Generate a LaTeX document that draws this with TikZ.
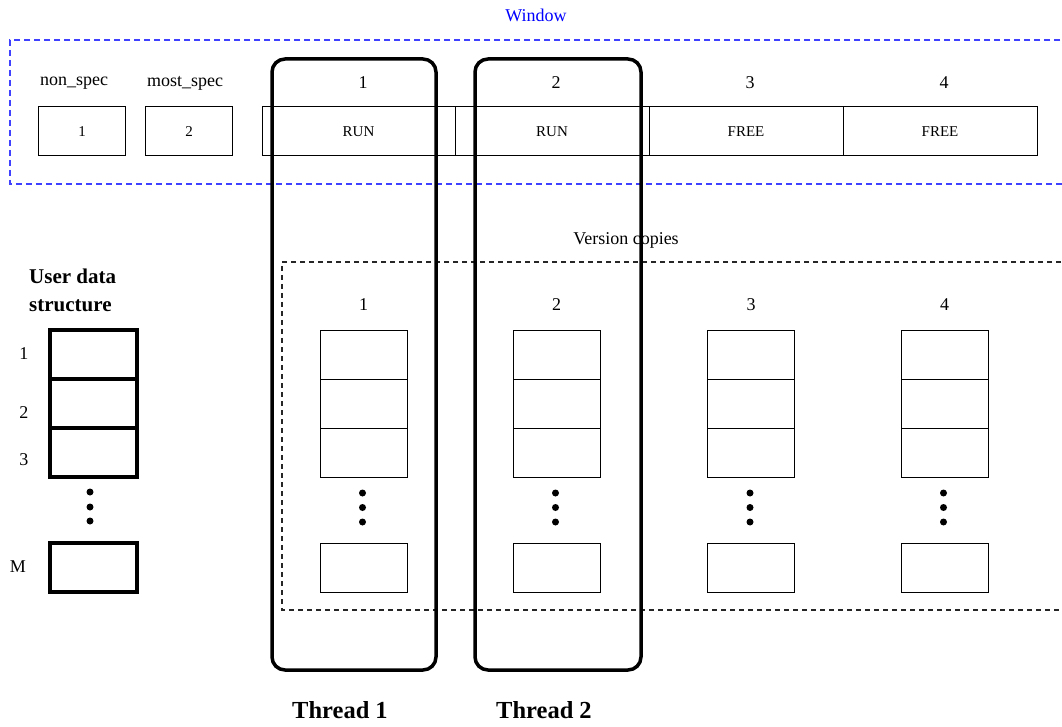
\documentclass[tikz,border=0pt]{standalone}
\usepackage{fontspec}
\setmainfont{Liberation Serif}
\begin{document}
\begin{tikzpicture}[x=1pt,y=-1pt,
  lbl/.style={font=\fontsize{18}{20}\selectfont, inner sep=0},
  cell/.style={draw, line width=1pt, minimum width=87pt, minimum height=49pt, inner sep=0, outer sep=0},
  slot/.style={draw, line width=1pt, minimum height=49pt, inner sep=0, outer sep=0, font=\fontsize{15}{17}\selectfont},
  ucell/.style={draw, line width=3.5pt, minimum width=87pt, minimum height=49pt, inner sep=0, outer sep=0},
  thread/.style={draw, line width=3.5pt, rounded corners=13pt, inner sep=0, outer sep=0},
  vdot/.style={circle, fill, inner sep=0, minimum size=7pt},
  bigbold/.style={font=\fontsize{24.5}{28}\selectfont\bfseries, inner sep=0}
]
\useasboundingbox (0,0) rectangle (1062,727);
\fill[white] (0,0) rectangle (1062,727);

% Window
\node[lbl, text=blue] (wlabel) at (536,15) {Window};
\draw[blue!75, line width=1.2pt, dash pattern=on 6pt off 4pt] (1070,40) -- (10,40) -- (10,184) -- (1070,184);

\node[lbl] (nonspec) at (74,83) {non\_spec};
\node[lbl] (mostspec) at (185,83) {most\_spec};
\node[slot, minimum width=87pt] (b1) at (82,131.5) {1};
\node[slot, minimum width=87pt] (b2) at (189,131.5) {2};

\node[slot, minimum width=193pt] (s1) at (358.5,131.5) {RUN};
\node[slot, minimum width=194pt] (s2) at (552,131.5) {RUN};
\node[slot, minimum width=194pt] (s3) at (746,131.5) {FREE};
\node[slot, minimum width=194pt] (s4) at (940,131.5) {FREE};

\node[lbl] (w1) at (363,83) {1};
\node[lbl] (w2) at (556,83) {2};
\node[lbl] (w3) at (750,83) {3};
\node[lbl] (w4) at (944,83) {4};

% User data structure
\node[font=\fontsize{21}{28}\selectfont\bfseries, inner sep=0, align=left, anchor=west] (udl) at (29,290) {User data\\structure};
\node[ucell] (u1) at (93.5,354.5) {};
\node[ucell] (u2) at (93.5,403.5) {};
\node[ucell] (u3) at (93.5,452.5) {};
\node[ucell] (uM) at (93.5,567.5) {};
\node[lbl] (ul1) at (24,354) {1};
\node[lbl] (ul2) at (24,413) {2};
\node[lbl] (ul3) at (24,460) {3};
\node[lbl] (ulM) at (18,567) {M};
\node[vdot] (ud1) at (90,492) {};
\node[vdot] (ud2) at (90,507) {};
\node[vdot] (ud3) at (90,521) {};

% Version copies
\node[lbl] (vlabel) at (626,240) {Version copies};
\draw[black!85, line width=1.1pt, dash pattern=on 5pt off 4pt] (1070,262) -- (282,262) -- (282,610) -- (1070,610);

\foreach \i/\x in {1/363.5, 2/556.5, 3/751, 4/944.5} {
  \node[lbl] (vl\i) at (\x,305) {\i};
  \node[cell] (v\i a) at (\x,354.5) {};
  \node[cell] (v\i b) at (\x,403.5) {};
  \node[cell] (v\i c) at (\x,452.5) {};
  \node[cell] (v\i m) at (\x,567.5) {};
  \node[vdot] (v\i d1) at (\x-1,493) {};
  \node[vdot] (v\i d2) at (\x-1,507.5) {};
  \node[vdot] (v\i d3) at (\x-1,522) {};
}

% Threads
\node[thread, minimum width=164pt, minimum height=611pt] (t1) at (354,364.5) {};
\node[thread, minimum width=166pt, minimum height=611pt] (t2) at (558,364.5) {};
\node[bigbold] (tl1) at (340,710) {Thread 1};
\node[bigbold] (tl2) at (544,710) {Thread 2};
\end{tikzpicture}
\end{document}
